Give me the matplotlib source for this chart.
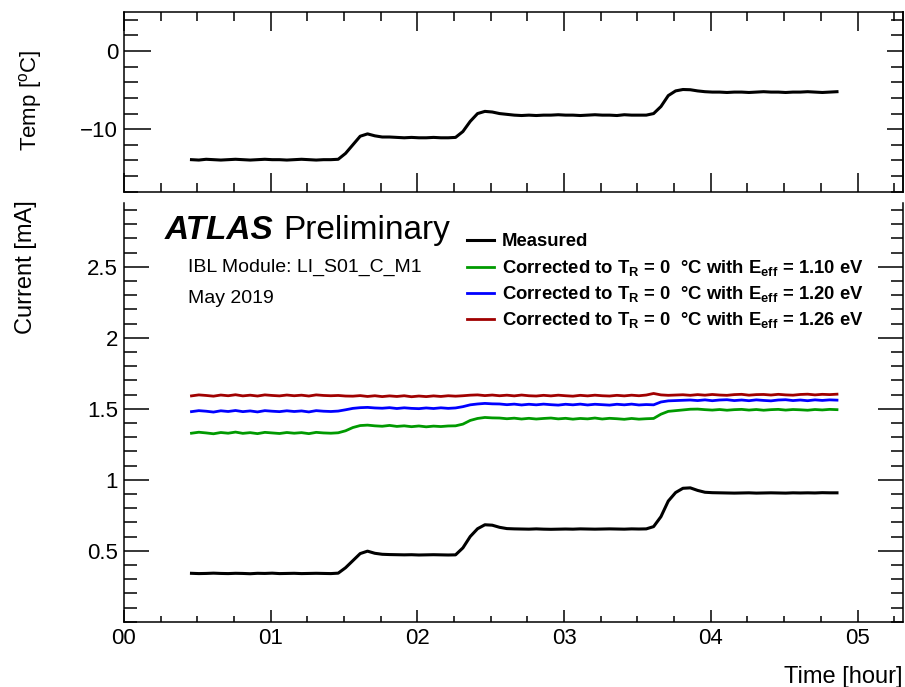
import matplotlib
matplotlib.use("Agg")
import matplotlib.pyplot as plt
from matplotlib.ticker import FixedLocator, MultipleLocator, NullFormatter
from matplotlib.lines import Line2D

plt.rcParams['font.family'] = ['Liberation Sans', 'DejaVu Sans']
plt.rcParams['mathtext.fontset'] = 'custom'
plt.rcParams['mathtext.rm'] = 'Liberation Sans'
plt.rcParams['mathtext.it'] = 'Liberation Sans:italic'
plt.rcParams['mathtext.bf'] = 'Liberation Sans:bold'
plt.rcParams['axes.unicode_minus'] = True

# ---------------- data (time in hours) ----------------
time_h = [0.46, 0.51, 0.56, 0.61, 0.66, 0.71, 0.76, 0.81, 0.86, 0.91,
          0.96, 1.01, 1.06, 1.11, 1.16, 1.21, 1.26, 1.31, 1.36, 1.41,
          1.46, 1.51, 1.56, 1.61, 1.66, 1.71, 1.76, 1.81, 1.86, 1.91,
          1.96, 2.01, 2.06, 2.11, 2.16, 2.21, 2.26, 2.31, 2.36, 2.41,
          2.46, 2.51, 2.56, 2.61, 2.66, 2.71, 2.76, 2.81, 2.86, 2.91,
          2.96, 3.01, 3.06, 3.11, 3.16, 3.21, 3.26, 3.31, 3.36, 3.41,
          3.46, 3.51, 3.56, 3.61, 3.66, 3.71, 3.76, 3.81, 3.86, 3.91,
          3.96, 4.01, 4.06, 4.11, 4.16, 4.21, 4.26, 4.31, 4.36, 4.41,
          4.46, 4.51, 4.56, 4.61, 4.66, 4.71, 4.76, 4.81, 4.86]

temp_c = [-13.9, -13.95, -13.85, -13.9, -13.95, -13.9, -13.85, -13.9, -13.95, -13.9,
          -13.85, -13.9, -13.9, -13.95, -13.9, -13.85, -13.9, -13.95, -13.9, -13.9,
          -13.85,
          -13.1, -12.0, -10.9, -10.6, -10.85, -11.0,
          -11.0, -11.05, -11.1, -11.05, -11.1, -11.1, -11.05, -11.1, -11.1,
          -11.05,
          -10.3, -9.0, -8.0, -7.72, -7.8, -8.0, -8.1, -8.2,
          -8.25, -8.2, -8.25, -8.2, -8.2, -8.15, -8.2, -8.2, -8.25, -8.2,
          -8.15, -8.2, -8.2, -8.25, -8.15, -8.2, -8.2, -8.2,
          -8.0, -7.1, -5.7, -5.1, -4.92, -4.95, -5.1, -5.2, -5.25,
          -5.25, -5.3, -5.25, -5.25, -5.3, -5.25, -5.2, -5.25, -5.25, -5.3,
          -5.25, -5.25, -5.2, -5.25, -5.3, -5.25, -5.2]

current_meas = [0.341, 0.339, 0.340, 0.342, 0.340, 0.339, 0.341, 0.340, 0.338, 0.341,
                0.340, 0.342, 0.339, 0.340, 0.341, 0.339, 0.340, 0.341, 0.340, 0.339,
                0.342,
                0.38, 0.43, 0.48, 0.497, 0.482, 0.475, 0.473,
                0.472, 0.471, 0.472, 0.470, 0.471, 0.472, 0.471, 0.470,
                0.471,
                0.52, 0.60, 0.655, 0.683, 0.68, 0.665, 0.656, 0.654,
                0.653, 0.652, 0.654, 0.652, 0.651, 0.652, 0.653, 0.652, 0.654, 0.653,
                0.652, 0.653, 0.654, 0.653, 0.652, 0.654, 0.653, 0.654,
                0.67, 0.74, 0.85, 0.91, 0.94, 0.943, 0.925, 0.912, 0.909,
                0.908, 0.907, 0.906, 0.907, 0.908, 0.906, 0.907, 0.908, 0.907, 0.906,
                0.908, 0.907, 0.908, 0.907, 0.909, 0.908, 0.908]

current_110 = [1.328, 1.335, 1.330, 1.324, 1.333, 1.328, 1.336, 1.327, 1.332, 1.325,
               1.334, 1.330, 1.326, 1.333, 1.328, 1.332, 1.325, 1.334, 1.330, 1.328,
               1.331, 1.345, 1.368, 1.382, 1.385, 1.380,
               1.377, 1.383, 1.376, 1.380, 1.374, 1.379, 1.373, 1.378, 1.375,
               1.379, 1.380,
               1.392, 1.418, 1.432, 1.439, 1.436,
               1.435, 1.430, 1.434, 1.428, 1.433, 1.428, 1.432, 1.435, 1.429, 1.433,
               1.427, 1.432, 1.429, 1.435, 1.428, 1.433, 1.430, 1.426, 1.432, 1.427, 1.430,
               1.432, 1.462, 1.482, 1.487, 1.492, 1.497, 1.498, 1.494,
               1.491, 1.495, 1.490, 1.494, 1.496, 1.491, 1.495, 1.490, 1.494, 1.496,
               1.491, 1.495, 1.493, 1.490, 1.495, 1.492, 1.496, 1.494]

current_120 = [1.480, 1.487, 1.483, 1.477, 1.486, 1.481, 1.488, 1.480, 1.485, 1.478,
               1.487, 1.483, 1.480, 1.486, 1.481, 1.485, 1.478, 1.487, 1.483, 1.481,
               1.484, 1.493, 1.503, 1.508, 1.510, 1.506,
               1.504, 1.508, 1.502, 1.507, 1.503, 1.501, 1.506, 1.502, 1.507, 1.503, 1.506,
               1.515, 1.528, 1.534, 1.538, 1.535,
               1.534, 1.529, 1.533, 1.527, 1.532, 1.528, 1.533, 1.529, 1.526, 1.532,
               1.528, 1.533, 1.527, 1.532, 1.529, 1.526, 1.532, 1.528, 1.533, 1.527, 1.530,
               1.528, 1.548, 1.556, 1.558, 1.560,
               1.562, 1.558, 1.563, 1.557, 1.562, 1.564, 1.558, 1.562, 1.557, 1.563,
               1.559, 1.556, 1.562, 1.564, 1.558, 1.562, 1.557, 1.563, 1.559, 1.563, 1.561]

current_126 = [1.591, 1.598, 1.594, 1.589, 1.597, 1.592, 1.599, 1.591, 1.596, 1.590,
               1.598, 1.594, 1.591, 1.597, 1.592, 1.596, 1.590, 1.598, 1.594, 1.592,
               1.594, 1.590, 1.589, 1.593, 1.587, 1.592, 1.586, 1.591, 1.587, 1.592,
               1.585, 1.590, 1.586, 1.591, 1.587, 1.592, 1.589,
               1.592, 1.596, 1.598, 1.593, 1.597, 1.592, 1.596, 1.591, 1.597, 1.592,
               1.590, 1.595, 1.591, 1.596, 1.592, 1.589, 1.595, 1.591, 1.596, 1.592,
               1.590, 1.595, 1.591, 1.596, 1.592, 1.597,
               1.608, 1.598, 1.595, 1.597,
               1.599, 1.595, 1.600, 1.596, 1.601, 1.597, 1.595, 1.600, 1.602, 1.596,
               1.600, 1.601, 1.597, 1.602, 1.598, 1.596, 1.601, 1.603, 1.598, 1.602,
               1.600, 1.603]

series_labels = ['Measured',
                 r'Corrected to $\mathbf{T_R}$ = 0  °C with $\mathbf{E_{eff}}$ = 1.10 eV',
                 r'Corrected to $\mathbf{T_R}$ = 0  °C with $\mathbf{E_{eff}}$ = 1.20 eV',
                 r'Corrected to $\mathbf{T_R}$ = 0  °C with $\mathbf{E_{eff}}$ = 1.26 eV']
series_colors = ['black', '#009a00', '#0000ff', '#a00000']

hour_ticks = [0, 1, 2, 3, 4, 5]
hour_labels = ['00', '01', '02', '03', '04', '05']
current_ticks = [0.5, 1.0, 1.5, 2.0, 2.5]
current_tick_labels = ['0.5', '1', '1.5', '2', '2.5']
temp_ticks = [-10, 0]

# ---------------- figure ----------------
W, H = 905, 687
fig = plt.figure(figsize=(W / 100, H / 100), dpi=100)

def fx(px):
    return px / W

def fy(py):
    return 1 - py / H

ax_l, ax_r = 124, 903
ax1 = fig.add_axes([fx(ax_l), fy(191.7), (ax_r - ax_l) / W, (191.7 - 12) / H])
ax2 = fig.add_axes([fx(ax_l), fy(621.7), (ax_r - ax_l) / W, (621.7 - 203) / H])

xmax = 5.31
tick_fs = 16
pt = 0.72  # points per pixel at 100 dpi

# ---- top panel: temperature ----
ax1.plot(time_h, temp_c, color='black', lw=2.2)
ax1.set_xlim(0, xmax)
ax1.set_ylim(-18, 5)
ax1.xaxis.set_major_locator(FixedLocator(hour_ticks))
ax1.xaxis.set_minor_locator(MultipleLocator(0.25))
ax1.xaxis.set_major_formatter(NullFormatter())
ax1.yaxis.set_major_locator(FixedLocator(temp_ticks))
ax1.yaxis.set_minor_locator(MultipleLocator(2))
ax1.tick_params(axis='x', which='both', direction='in', top=True, bottom=True,
                labelbottom=False, width=1.1)
ax1.tick_params(axis='x', which='major', length=19 * pt)
ax1.tick_params(axis='x', which='minor', length=9 * pt)
ax1.tick_params(axis='y', which='both', direction='in', left=True, right=False,
                labelsize=tick_fs, pad=4.3, width=1.1)
ax1.tick_params(axis='y', which='major', length=27 * pt)
ax1.tick_params(axis='y', which='minor', length=14 * pt)
sec1 = ax1.secondary_yaxis('right')
sec1.yaxis.set_major_locator(FixedLocator(temp_ticks))
sec1.yaxis.set_minor_locator(MultipleLocator(2))
sec1.tick_params(axis='y', which='both', direction='in', labelright=False, width=1.1)
sec1.tick_params(axis='y', which='major', length=16 * pt)
sec1.tick_params(axis='y', which='minor', length=12 * pt)
for s in ax1.spines.values():
    s.set_linewidth(1.1)
sec1.spines['right'].set_linewidth(1.1)

# ---- bottom panel: current ----
series = [current_meas, current_110, current_120, current_126]
lines = []
for vals, col, lab in zip(series, series_colors, series_labels):
    lw = 2.2 if col == 'black' else 2.0
    ln, = ax2.plot(time_h, vals, color=col, lw=lw, label=lab)
    lines.append(ln)
ax2.set_xlim(0, xmax)
ax2.set_ylim(0, 2.95)
ax2.xaxis.set_major_locator(FixedLocator(hour_ticks))
ax2.xaxis.set_ticklabels(hour_labels)
ax2.xaxis.set_minor_locator(MultipleLocator(0.25))
ax2.yaxis.set_major_locator(FixedLocator(current_ticks))
ax2.yaxis.set_ticklabels(current_tick_labels)
ax2.yaxis.set_minor_locator(MultipleLocator(0.1))
ax2.spines['top'].set_visible(False)
for s in ['left', 'right', 'bottom']:
    ax2.spines[s].set_linewidth(1.1)
ax2.tick_params(axis='x', which='both', direction='in', top=False, bottom=True,
                labelsize=tick_fs, pad=4.5, width=1.1)
ax2.tick_params(axis='x', which='major', length=12 * pt)
ax2.tick_params(axis='x', which='minor', length=6 * pt)
ax2.tick_params(axis='y', which='both', direction='in', left=True, right=True,
                labelsize=tick_fs, pad=4.3, width=1.1)
ax2.tick_params(axis='y', which='major', length=25 * pt)
ax2.tick_params(axis='y', which='minor', length=12.5 * pt)

# ---- axis titles ----
fig.text(fx(31), fy(100), r'Temp [$^{\mathrm{o}}$C]', rotation=90,
         ha='center', va='center', fontsize=16)
fig.text(fx(26), fy(200), 'Current [mA]', rotation=90,
         ha='center', va='top', fontsize=17)
fig.text(fx(902), fy(683), 'Time [hour]', ha='right', va='baseline', fontsize=17)

# ---- ATLAS label ----
fig.text(fx(165), fy(239), 'ATLAS', fontsize=24, fontweight='bold',
         fontstyle='italic', ha='left', va='baseline')
fig.text(fx(283), fy(239), 'Preliminary', fontsize=24, ha='left', va='baseline')
fig.text(fx(188), fy(271.7), 'IBL Module: LI_S01_C_M1', fontsize=14,
         ha='left', va='baseline')
fig.text(fx(188), fy(303), 'May 2019', fontsize=14, ha='left', va='baseline')

# ---- legend (manual rows) ----
row_y = [240, 266.7, 293, 319]
for ln, yy in zip(lines, row_y):
    fig.add_artist(Line2D([fx(467), fx(494)], [fy(yy), fy(yy)],
                          transform=fig.transFigure, color=ln.get_color(),
                          lw=ln.get_linewidth()))
    fig.text(fx(502), fy(yy + 6), ln.get_label(), fontsize=13.3,
             fontweight='bold', ha='left', va='baseline')

fig.savefig('out.png', dpi=100)
